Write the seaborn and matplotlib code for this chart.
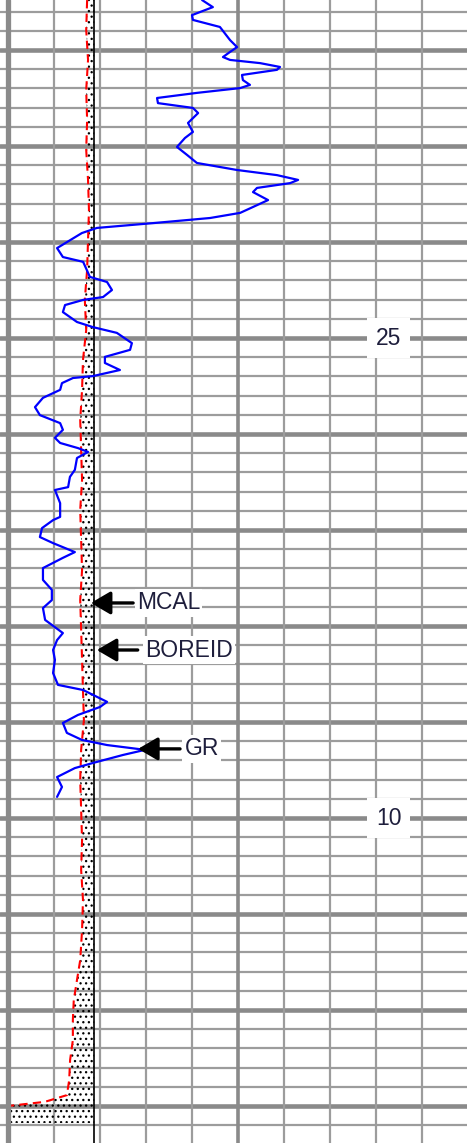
import numpy as np
import matplotlib
matplotlib.use('Agg')
import matplotlib.pyplot as plt
import seaborn as sns

# ---------------- data ----------------
gr_depth = [35.56, 35.34, 35.09, 34.94, 34.72, 34.31, 34.09, 33.94, 33.78, 33.69,
            33.59, 33.47, 33.38, 33.22, 33.06, 32.91, 32.81, 32.66, 32.50, 32.34,
            32.19, 32.03, 31.72, 31.44, 31.25, 30.97, 30.72, 30.47, 30.25, 30.09,
            29.94, 29.84, 29.69, 29.56, 29.31, 28.91, 28.75, 28.59, 28.44, 28.28,
            27.81, 27.53, 27.38, 26.91, 26.75, 26.50, 26.28, 26.19, 26.03, 25.81,
            25.50, 25.34, 25.16, 24.84, 24.63, 24.41, 24.22, 24.00, 23.81, 23.75,
            23.59, 23.38, 23.13, 22.84, 22.59, 22.34, 22.13, 21.88, 21.72, 21.56,
            21.44, 21.25, 20.88, 20.66, 20.34, 20.25, 19.84, 19.41, 19.31, 19.06,
            18.78, 18.59, 18.31, 18.13, 17.81, 17.44, 17.13, 16.81, 16.56, 16.19,
            15.78, 15.56, 15.25, 14.94, 14.53, 14.16, 14.00, 13.63, 13.47, 13.22,
            12.97, 12.66, 12.44, 12.28, 12.13, 11.97, 11.72, 11.56, 11.28, 10.97,
            10.66]
gr_api = [63.3, 66.8, 60.0, 60.3, 69.1, 72.4, 74.7, 72.4, 70.1, 72.4,
          82.2, 88.7, 87.7, 76.3, 76.6, 78.9, 75.7, 61.6, 48.6, 48.9,
          60.3, 62.0, 58.7, 60.3, 57.7, 55.1, 58.4, 61.6, 74.7, 87.7,
          94.6, 92.0, 81.2, 79.9, 84.8, 75.7, 65.9, 47.3, 29.0, 24.1,
          16.0, 17.9, 24.5, 26.7, 32.3, 33.9, 31.0, 24.5, 18.6, 17.9,
          22.5, 27.7, 35.5, 40.4, 39.8, 31.6, 31.6, 36.5, 27.7, 21.2,
          17.6, 17.0, 11.4, 8.8, 10.4, 17.0, 17.9, 15.3, 17.0, 22.8,
          26.1, 22.5, 21.8, 20.2, 19.6, 15.3, 17.0, 17.0, 14.7, 11.1,
          10.4, 14.7, 21.8, 17.9, 11.4, 11.4, 14.3, 14.3, 11.4, 12.1,
          17.9, 16.0, 14.7, 15.3, 14.7, 16.3, 24.5, 32.3, 30.0, 22.8,
          17.9, 19.2, 24.1, 32.3, 44.7, 37.5, 27.7, 21.8, 16.0, 17.6,
          16.0]

mcal_depth = [35.56, 34.63, 33.69, 32.75, 31.81, 30.88, 29.94, 29.00, 28.06, 27.13,
              26.19, 25.25, 24.31, 23.38, 22.44, 21.50, 20.56, 19.63, 18.69, 17.75,
              16.81, 15.88, 14.94, 14.00, 13.06, 12.13, 11.19, 10.25, 9.31, 8.38,
              7.44, 6.50, 5.56, 4.94, 4.31, 3.69, 3.06, 2.44, 1.81, 1.34,
              1.13, 1.00, 0.47]
mcal_in = [7.72, 7.70, 7.74, 7.70, 7.72, 7.70, 7.74, 7.76, 7.74, 7.72,
           7.67, 7.70, 7.63, 7.61, 7.57, 7.59, 7.61, 7.57, 7.59, 7.61,
           7.57, 7.59, 7.61, 7.63, 7.65, 7.59, 7.57, 7.59, 7.61, 7.59,
           7.63, 7.61, 7.57, 7.50, 7.43, 7.41, 7.41, 7.35, 7.33, 7.28,
           6.80, 6.00, 6.00]

boreid_in = 7.875
boreid_depth = [35.7, -0.3]

depth_labels = [25, 10]
curve_labels = ['MCAL', 'BOREID', 'GR']

# ---------------- styling ----------------
sns.set_style('white')
plt.rcParams['font.family'] = ['Liberation Sans', 'DejaVu Sans']
plt.rcParams['hatch.linewidth'] = 0.9
plt.rcParams['hatch.color'] = 'black'

W, H = 467, 1143
fig = plt.figure(figsize=(W / 100, H / 100), dpi=100)
ax = fig.add_axes([0, 0, 1, 1])

CAL_MIN, CAL_MAX = 6.0, 16.0
GR_MIN, GR_MAX = 0.0, 150.0
left_pad_div = 8 / 46.0
right_div = 459 / 46.0
y_lo, y_hi = -0.156, 35.5625

# ---- grid ----
grid_c = '#9c9c9c'
thick_c = '#8a8a8a'
for k in range(-1, 60):
    y = 1.0 + 0.6 * k
    if k % 5 == 0:
        ax.axhline(y, color=thick_c, lw=3.3, zorder=0.5)
    else:
        ax.axhline(y, color=grid_c, lw=1.6, zorder=0.4)
for v in np.arange(CAL_MIN, CAL_MAX + 0.5, 1.0):
    if v == CAL_MIN:
        ax.axvline(v, color=thick_c, lw=3.8, zorder=3.5)
    elif v == 11.0:
        ax.axvline(v, color=thick_c, lw=2.6, zorder=0.6)
    else:
        ax.axvline(v, color=grid_c, lw=1.6, zorder=0.6)

# ---- caliper track ----
mcal = np.array(mcal_in)
mdep = np.array(mcal_depth)
ax.fill_betweenx(mdep, mcal, boreid_in, where=mcal < boreid_in,
                 facecolor='none', edgecolor='black', hatch='...', lw=0,
                 interpolate=True, zorder=1.5)
sns.lineplot(x=mcal_in[:-1], y=mcal_depth[:-1], orient='y', sort=False,
             estimator=None, ax=ax, color='#ff0000', lw=1.5,
             linestyle=(0, (4, 2.5)), zorder=2.5)
sns.lineplot(x=[boreid_in, boreid_in], y=boreid_depth, orient='y', sort=False,
             estimator=None, ax=ax, color='black', lw=1.2, zorder=3)

ax.set_xlim(CAL_MIN - left_pad_div, CAL_MIN + right_div)
ax.set_ylim(y_lo, y_hi)
ax.set_axis_off()

# ---- GR track (own scale) ----
ax2 = ax.twiny()
sns.lineplot(x=gr_api, y=gr_depth, orient='y', sort=False, estimator=None,
             ax=ax2, color='#0000ff', lw=1.6, zorder=4)
gscale = (GR_MAX - GR_MIN) / 10.0
ax2.set_xlim(GR_MIN - left_pad_div * gscale, GR_MIN + right_div * gscale)
ax2.set_ylim(y_lo, y_hi)
ax2.set_axis_off()

# ---- depth labels ----
txt_c = '#1e1e3c'
for d in depth_labels:
    ax.text(14.28, d, str(d), ha='center', va='center', fontsize=16.5,
            color=txt_c, zorder=6,
            bbox=dict(boxstyle='square,pad=0.38', fc='white', ec='none'))

# ---- curve annotations ----
arrow_kw = dict(arrowstyle='-|>,head_length=0.6,head_width=0.35',
                color='black', lw=2.4, mutation_scale=20, shrinkA=0, shrinkB=0)
box = dict(boxstyle='square,pad=0.1', fc='white', ec='none')

d_mcal = 16.72
ax.annotate('', xy=(7.80, d_mcal), xytext=(8.72, d_mcal),
            arrowprops=arrow_kw, zorder=6)
ax.text(8.80, d_mcal, curve_labels[0], ha='left', va='center', fontsize=16.5,
        color=txt_c, bbox=box, zorder=6)

d_bore = 15.25
ax.annotate('', xy=(7.93, d_bore), xytext=(8.82, d_bore),
            arrowprops=arrow_kw, zorder=6)
ax.text(8.98, d_bore, curve_labels[1], ha='left', va='center', fontsize=16.5,
        color=txt_c, bbox=box, zorder=6)

d_gr = 12.16
ax2.annotate('', xy=(42.4, d_gr), xytext=(56.1, d_gr),
             arrowprops=arrow_kw, zorder=6)
ax2.text(57.6, d_gr, curve_labels[2], ha='left', va='center', fontsize=16.5,
         color=txt_c, bbox=box, zorder=6)

fig.savefig('out.png', dpi=100, facecolor='white')
